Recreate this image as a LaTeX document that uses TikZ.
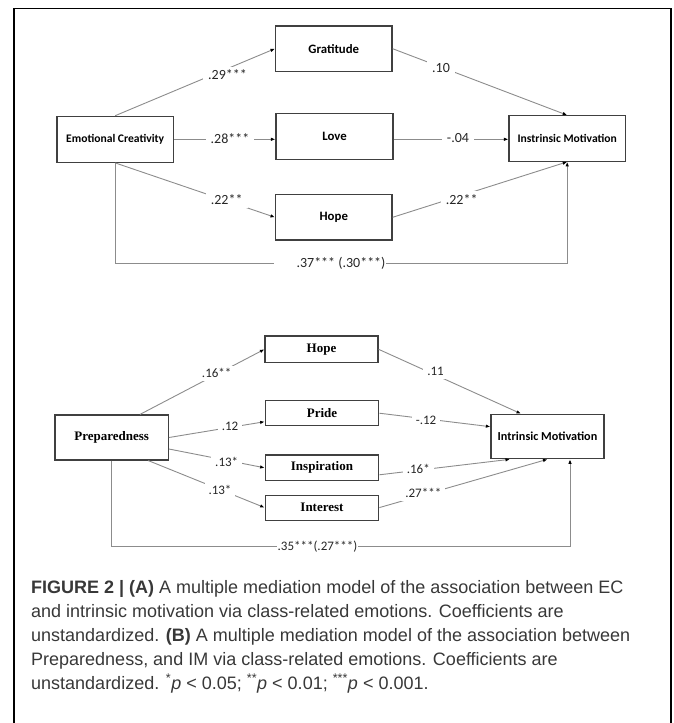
\documentclass[tikz,border=0pt]{standalone}
\usepackage{fontspec}
\setmainfont{Liberation Sans}
\newfontfamily\calfont{Carlito}
\newfontfamily\timesfont{Liberation Serif}
\usetikzlibrary{arrows.meta}
\begin{document}
\begin{tikzpicture}[x=1pt,y=-1pt,
  box/.style={draw=black!75, line width=1.2pt, inner sep=0pt},
  tbox/.style={box, font=\calfont\bfseries\fontsize{12.8}{14}\selectfont},
  tboxs/.style={box, font=\calfont\bfseries\fontsize{11.6}{13}\selectfont},
  bbox/.style={box, font=\timesfont\bfseries\fontsize{13}{15}\selectfont},
  conn/.style={draw=black!45, line width=0.9pt, -{Latex[length=4.5pt,width=3.5pt,color=black]}},
  lab/.style={fill=white, inner xsep=5pt, inner ysep=3pt, font=\calfont\fontsize{14}{16}\selectfont, text=black!85},
  blab/.style={lab, inner xsep=4pt, font=\calfont\fontsize{13}{15}\selectfont},
  captxt/.style={anchor=base west, inner sep=0pt, font=\fontsize{18}{24}\selectfont, text=black!78}
]
\useasboundingbox (0,0) rectangle (673,723);
\clip (0,0) rectangle (673,723);
% frame
\draw[line width=1.5pt] (14,760) -- (14,8.5) -- (671,8.5) -- (671,760);

% ---------- Panel A ----------
\node[tboxs, minimum width=116.3pt, minimum height=46pt] (ec) at (115.2,139.3) {Emotional Creativity};
\node[tbox, minimum width=116.5pt, minimum height=45.3pt] (grat) at (333.8,48.7) {Gratitude};
\node[tbox, minimum width=117pt, minimum height=45.3pt] (love) at (334.5,136.5) {Love};
\node[tbox, minimum width=116.5pt, minimum height=45.3pt] (hope) at (333.8,217.3) {Hope};
\node[tboxs, minimum width=116.3pt, minimum height=45.5pt] (im) at (567.2,138.5) {Instrinsic Motivation};
\coordinate (ybot) at (0,263.3);

\draw[conn] (ec.north) -- (grat.west);
\draw[conn] (ec.east) -- (ec.east -| love.west);
\draw[conn] (ec.south) -- (hope.west);
\draw[conn] (grat.east) -- (im.north);
\draw[conn] (ec.east -| love.east) -- (ec.east -| im.west);
\draw[conn] (hope.east) -- (im.south);
\draw[conn] (ec.south) -- (ec.south |- ybot) -- (im.south |- ybot) -- (im.south);

\node[lab] (l1) at (227.5,75) {.29***};
\node[lab] (l2) at (441,68.3) {.10};
\node[lab] (l3) at (230,138.3) {.28***};
\node[lab] (l4) at (458,138.3) {-.04};
\node[lab] (l5) at (226.7,199.5) {.22**};
\node[lab] (l6) at (461.7,199.3) {.22**};
\node[lab, inner xsep=1pt] (l7) at (330,263.3) {\hspace*{22pt}.37*** (.30***)};

% ---------- Panel B ----------
\node[bbox, minimum width=113.3pt, minimum height=45pt] (prep) at (111.7,437.5) {Preparedness};
\node[bbox, minimum width=113pt, minimum height=26.7pt] (hope2) at (321.5,349.3) {Hope};
\node[bbox, minimum width=113.5pt, minimum height=25pt] (pride) at (322,413.2) {Pride};
\node[bbox, minimum width=113.5pt, minimum height=25.7pt] (insp) at (322,467.8) {Inspiration};
\node[bbox, minimum width=113.5pt, minimum height=25pt] (inter) at (322,507.6) {Interest};
\node[box, font=\calfont\bfseries\fontsize{12.2}{14}\selectfont, minimum width=113pt, minimum height=44.4pt] (im2) at (547.5,436.5) {Intrinsic Motivation};
\coordinate (ybot2) at (0,546.7);

\draw[conn] ([xshift=28.3pt]prep.north) -- (hope2.west);
\draw[conn] (prep.east) -- ([yshift=-8.5pt]pride.west);
\draw[conn] ([yshift=-11.5pt]prep.east) -- (insp.west);
\draw[conn] ([xshift=36.6pt]prep.south) -- (inter.west);
\draw[conn] (hope2.east) -- ([xshift=-26.5pt]im2.north);
\draw[conn] (pride.east) -- ([yshift=9.8pt]im2.west);
\draw[conn] ([yshift=-7pt]insp.east) -- ([xshift=-37.5pt]im2.south);
\draw[conn] (inter.east) -- (im2.south);
\draw[conn] (prep.south) -- (prep.south |- ybot2) -- ([xshift=22.5pt]im2.south |- ybot2) -- ([xshift=22.5pt]im2.south);

\node[blab] (m1) at (216.7,373.3) {.16**};
\node[blab] (m2) at (435.6,371.7) {.11};
\node[blab] (m3) at (230,426) {.12};
\node[blab] (m4) at (426,420) {-.12};
\node[blab] (m5) at (226.7,461.7) {.13*};
\node[blab] (m6) at (418.3,469.3) {.16*};
\node[blab] (m7) at (220,490) {.13*};
\node[blab] (m8) at (423.3,493.3) {.27***};
\node[blab, inner xsep=1pt] (m9) at (317.5,546.7) {.35***(.27***)};

% ---------- Caption ----------
\node[captxt] (c1) at (31,593) {\textbf{FIGURE 2 | (A)} A multiple mediation model of the association between EC};
\node[captxt] (c2) at (31,617) {and intrinsic motivation via class-related emotions. Coefficients are};
\node[captxt] (c3) at (31,641) {unstandardized. \textbf{(B)} A multiple mediation model of the association between};
\node[captxt] (c4) at (31,665) {Preparedness, and IM via class-related emotions. Coefficients are};
\node[captxt] (c5) at (31,689) {unstandardized. \textsuperscript{*}\textit{p} < 0.05; \textsuperscript{**}\textit{p} < 0.01; \textsuperscript{***}\textit{p} < 0.001.};
\end{tikzpicture}
\end{document}
